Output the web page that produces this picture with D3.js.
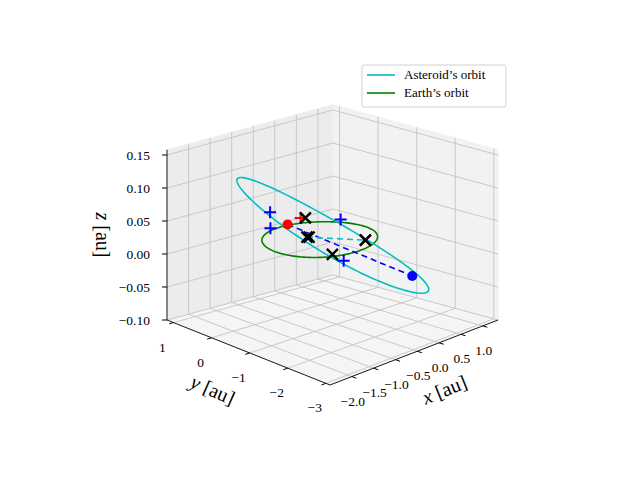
<!DOCTYPE html>
<html>
<head>
<meta charset="utf-8">
<script src="https://cdn.jsdelivr.net/npm/d3@7"></script>
<style>
  body { margin: 0; background: #fff; }
  text { font-family: "Liberation Serif", "DejaVu Serif", serif; }
</style>
</head>
<body>
<div id="chart"></div>
<script>
// axis limits and ticks
var xLim = [-2.5, 1.35], yLim = [-3.11, 1.17], zLim = [-0.1, 0.158];
var xTicks = [-2.0, -1.5, -1.0, -0.5, 0.0, 0.5, 1.0];
var yTicks = [1, 0, -1, -2, -3];
var zTicks = [-0.10, -0.05, 0.00, 0.05, 0.10, 0.15];

// asteroid orbital elements (a [au], e, i, node, peri [deg])
var asteroidElements = { a: 1.9, e: 0.5, i: 4.0, node: 87.6, peri: -25.6 };
var earthRadius = 1.0;

// event markers [x, y, z] in au
var redDot = [0.171, 1.028, 0];
var blueDot = [-0.255, -2.70, 0];
var bluePlus = [[0.445, 1.791, 0], [-0.19, 1.07, 0], [1.0, 0.58, 0], [-0.5, -1.19, 0]];
var blackX = [[0.651, 1.103, 0], [-0.08, 0.241, 0], [-0.06, 0.21, 0], [-0.407, -0.79, 0], [0.482, -0.646, 0]];
var redPlus = [[0.592, 1.163, 0]];
var redX = [[0.482, -0.646, 0]];
var nodeLine = [[-0.08, 0.241, 0], [0.482, -0.646, 0]];

var width = 640, height = 480;
var svg = d3.select("#chart").append("svg")
  .attr("width", width).attr("height", height);

// screen corners of the floor (z = zmin)
var F = [330, 385], R = [498, 320], L = [167, 320], B = [333, 275];
var u = d3.scaleLinear().domain(xLim).range([0, 1]);
var v = d3.scaleLinear().domain(yLim).range([0, 1]);
var zs = d3.scaleLinear().domain(zLim).range([0, -(zLim[1] - zLim[0]) * 660]);

function proj(p) {
  var a = u(p[0]), b = v(p[1]);
  var sx = (1-a)*(1-b)*F[0] + a*(1-b)*R[0] + (1-a)*b*L[0] + a*b*B[0];
  var sy = (1-a)*(1-b)*F[1] + a*(1-b)*R[1] + (1-a)*b*L[1] + a*b*B[1];
  return [sx, sy + zs(p[2])];
}
var line3 = d3.line().x(d => proj(d)[0]).y(d => proj(d)[1]);

// panes
var x0 = xLim[0], x1 = xLim[1], y0 = yLim[0], y1 = yLim[1], z0 = zLim[0], z1 = zLim[1];
var panes = [
  { pts: [[x0,y0,z0],[x1,y0,z0],[x1,y1,z0],[x0,y1,z0]], fill: "#f5f5f5" },
  { pts: [[x0,y1,z0],[x1,y1,z0],[x1,y1,z1],[x0,y1,z1]], fill: "#ececec" },
  { pts: [[x1,y0,z0],[x1,y1,z0],[x1,y1,z1],[x1,y0,z1]], fill: "#f2f2f2" }
];
svg.selectAll(".pane").data(panes).enter().append("path")
  .attr("d", d => line3(d.pts) + "Z")
  .attr("fill", d => d.fill).attr("stroke", "#f0f0f0");

// grid lines
var grid = [];
xTicks.forEach(t => { grid.push([[t,y0,z0],[t,y1,z0]]); grid.push([[t,y1,z0],[t,y1,z1]]); });
yTicks.forEach(t => { grid.push([[x0,t,z0],[x1,t,z0]]); grid.push([[x1,t,z0],[x1,t,z1]]); });
zTicks.forEach(t => { grid.push([[x0,y1,t],[x1,y1,t]]); grid.push([[x1,y0,t],[x1,y1,t]]); });
svg.selectAll(".grid").data(grid).enter().append("path")
  .attr("d", line3).attr("fill", "none")
  .attr("stroke", "#c4c4c4").attr("stroke-width", 0.9);

// axis lines
svg.append("path").attr("d", line3([[x0,y0,z0],[x1,y0,z0]])).attr("stroke", "#000").attr("stroke-width", 0.9);
svg.append("path").attr("d", line3([[x0,y1,z0],[x0,y0,z0]])).attr("stroke", "#000").attr("stroke-width", 0.9);
svg.append("path").attr("d", line3([[x0,y1,z0],[x0,y1,z1]])).attr("stroke", "#000").attr("stroke-width", 0.9);

var fmt2 = d3.format(".2f"), fmt1 = d3.format(".1f");
function minus(s) { return s.replace("-", "\u2212"); }

// x ticks
xTicks.forEach(t => {
  var a = proj([t, y0, z0]), b = proj([t, y0 - 0.12, z0]);
  svg.append("line").attr("x1", a[0]).attr("y1", a[1]).attr("x2", b[0]).attr("y2", b[1]).attr("stroke", "#000");
  svg.append("text").attr("x", a[0] + 1).attr("y", a[1] + 29)
    .attr("text-anchor", "middle").attr("font-size", 13.5).text(minus(fmt1(t)));
});
// y ticks
yTicks.forEach(t => {
  var a = proj([x0, t, z0]), b = proj([x0 - 0.1, t, z0]);
  svg.append("line").attr("x1", a[0]).attr("y1", a[1]).attr("x2", b[0]).attr("y2", b[1]).attr("stroke", "#000");
  svg.append("text").attr("x", a[0] - 11).attr("y", a[1] + 29)
    .attr("text-anchor", "middle").attr("font-size", 13.5).text(minus(String(t)));
});
// z ticks
zTicks.forEach(t => {
  var a = proj([x0, y1, t]);
  svg.append("line").attr("x1", a[0]).attr("y1", a[1]).attr("x2", a[0] - 5).attr("y2", a[1]).attr("stroke", "#000");
  svg.append("text").attr("x", a[0] - 17).attr("y", a[1] + 5)
    .attr("text-anchor", "end").attr("font-size", 13.5).text(minus(fmt2(t)));
});

// axis labels
svg.append("text").attr("transform", "translate(447,396) rotate(-22)")
  .attr("text-anchor", "middle").attr("font-size", 20)
  .html('<tspan font-style="italic">x</tspan> [au]');
svg.append("text").attr("transform", "translate(210,396) rotate(24)")
  .attr("text-anchor", "middle").attr("font-size", 20)
  .html('<tspan font-style="italic">y</tspan> [au]');
svg.append("text").attr("transform", "translate(96,235) rotate(90)")
  .attr("text-anchor", "middle").attr("font-size", 20)
  .html('<tspan font-style="italic">z</tspan> [au]');

// orbits
var rad = Math.PI / 180;
function orbitPos(el, nu) {
  var r = el.a * (1 - el.e * el.e) / (1 + el.e * Math.cos(nu));
  var w = el.peri * rad + nu, O = el.node * rad, inc = el.i * rad;
  return [r * (Math.cos(O) * Math.cos(w) - Math.sin(O) * Math.sin(w) * Math.cos(inc)),
          r * (Math.sin(O) * Math.cos(w) + Math.cos(O) * Math.sin(w) * Math.cos(inc)),
          r * Math.sin(w) * Math.sin(inc)];
}
var nus = d3.range(0, 361, 2).map(d => d * rad);
var asteroidPath = nus.map(n => orbitPos(asteroidElements, n));
var earthPath = nus.map(n => [earthRadius * Math.cos(n), earthRadius * Math.sin(n), 0]);

svg.append("path").attr("d", line3(earthPath)).attr("fill", "none").attr("stroke", "green").attr("stroke-width", 1.6);
svg.append("path").attr("d", line3(asteroidPath)).attr("fill", "none").attr("stroke", "#00bfbf").attr("stroke-width", 1.6);

svg.append("path").attr("d", line3([redDot, blueDot])).attr("stroke", "blue").attr("stroke-width", 1.6).attr("stroke-dasharray", "6,4");
svg.append("path").attr("d", line3(nodeLine)).attr("stroke", "#00bfbf").attr("stroke-width", 1.6).attr("stroke-dasharray", "6,4");

function plus(data, color) {
  data.forEach(p => {
    var s = proj(p);
    svg.append("path").attr("d", `M${s[0]-6},${s[1]}H${s[0]+6}M${s[0]},${s[1]-6}V${s[1]+6}`)
      .attr("stroke", color).attr("stroke-width", 2);
  });
}
function cross(data, color) {
  data.forEach(p => {
    var s = proj(p);
    svg.append("path").attr("d", `M${s[0]-5.5},${s[1]-5.5}L${s[0]+5.5},${s[1]+5.5}M${s[0]-5.5},${s[1]+5.5}L${s[0]+5.5},${s[1]-5.5}`)
      .attr("stroke", color).attr("stroke-width", 2.4);
  });
}
plus(bluePlus, "blue");
plus(redPlus, "red");
cross(redX, "red");
cross(blackX, "black");
var pp = proj(redDot), ap = proj(blueDot);
svg.append("circle").attr("cx", pp[0]).attr("cy", pp[1]).attr("r", 5).attr("fill", "red");
svg.append("circle").attr("cx", ap[0]).attr("cy", ap[1]).attr("r", 5).attr("fill", "blue");

// legend
var lg = svg.append("g").attr("transform", "translate(362,65)");
lg.append("rect").attr("width", 144).attr("height", 42).attr("rx", 2)
  .attr("fill", "#fff").attr("stroke", "#d0d0d0");
[["Asteroid\u2019s orbit", "#00bfbf"], ["Earth\u2019s orbit", "green"]].forEach((d, i) => {
  lg.append("line").attr("x1", 5).attr("x2", 33).attr("y1", 10 + i * 18).attr("y2", 10 + i * 18)
    .attr("stroke", d[1]).attr("stroke-width", 1.6);
  lg.append("text").attr("x", 42).attr("y", 14 + i * 18).attr("font-size", 13).text(d[0]);
});
</script>
</body>
</html>
